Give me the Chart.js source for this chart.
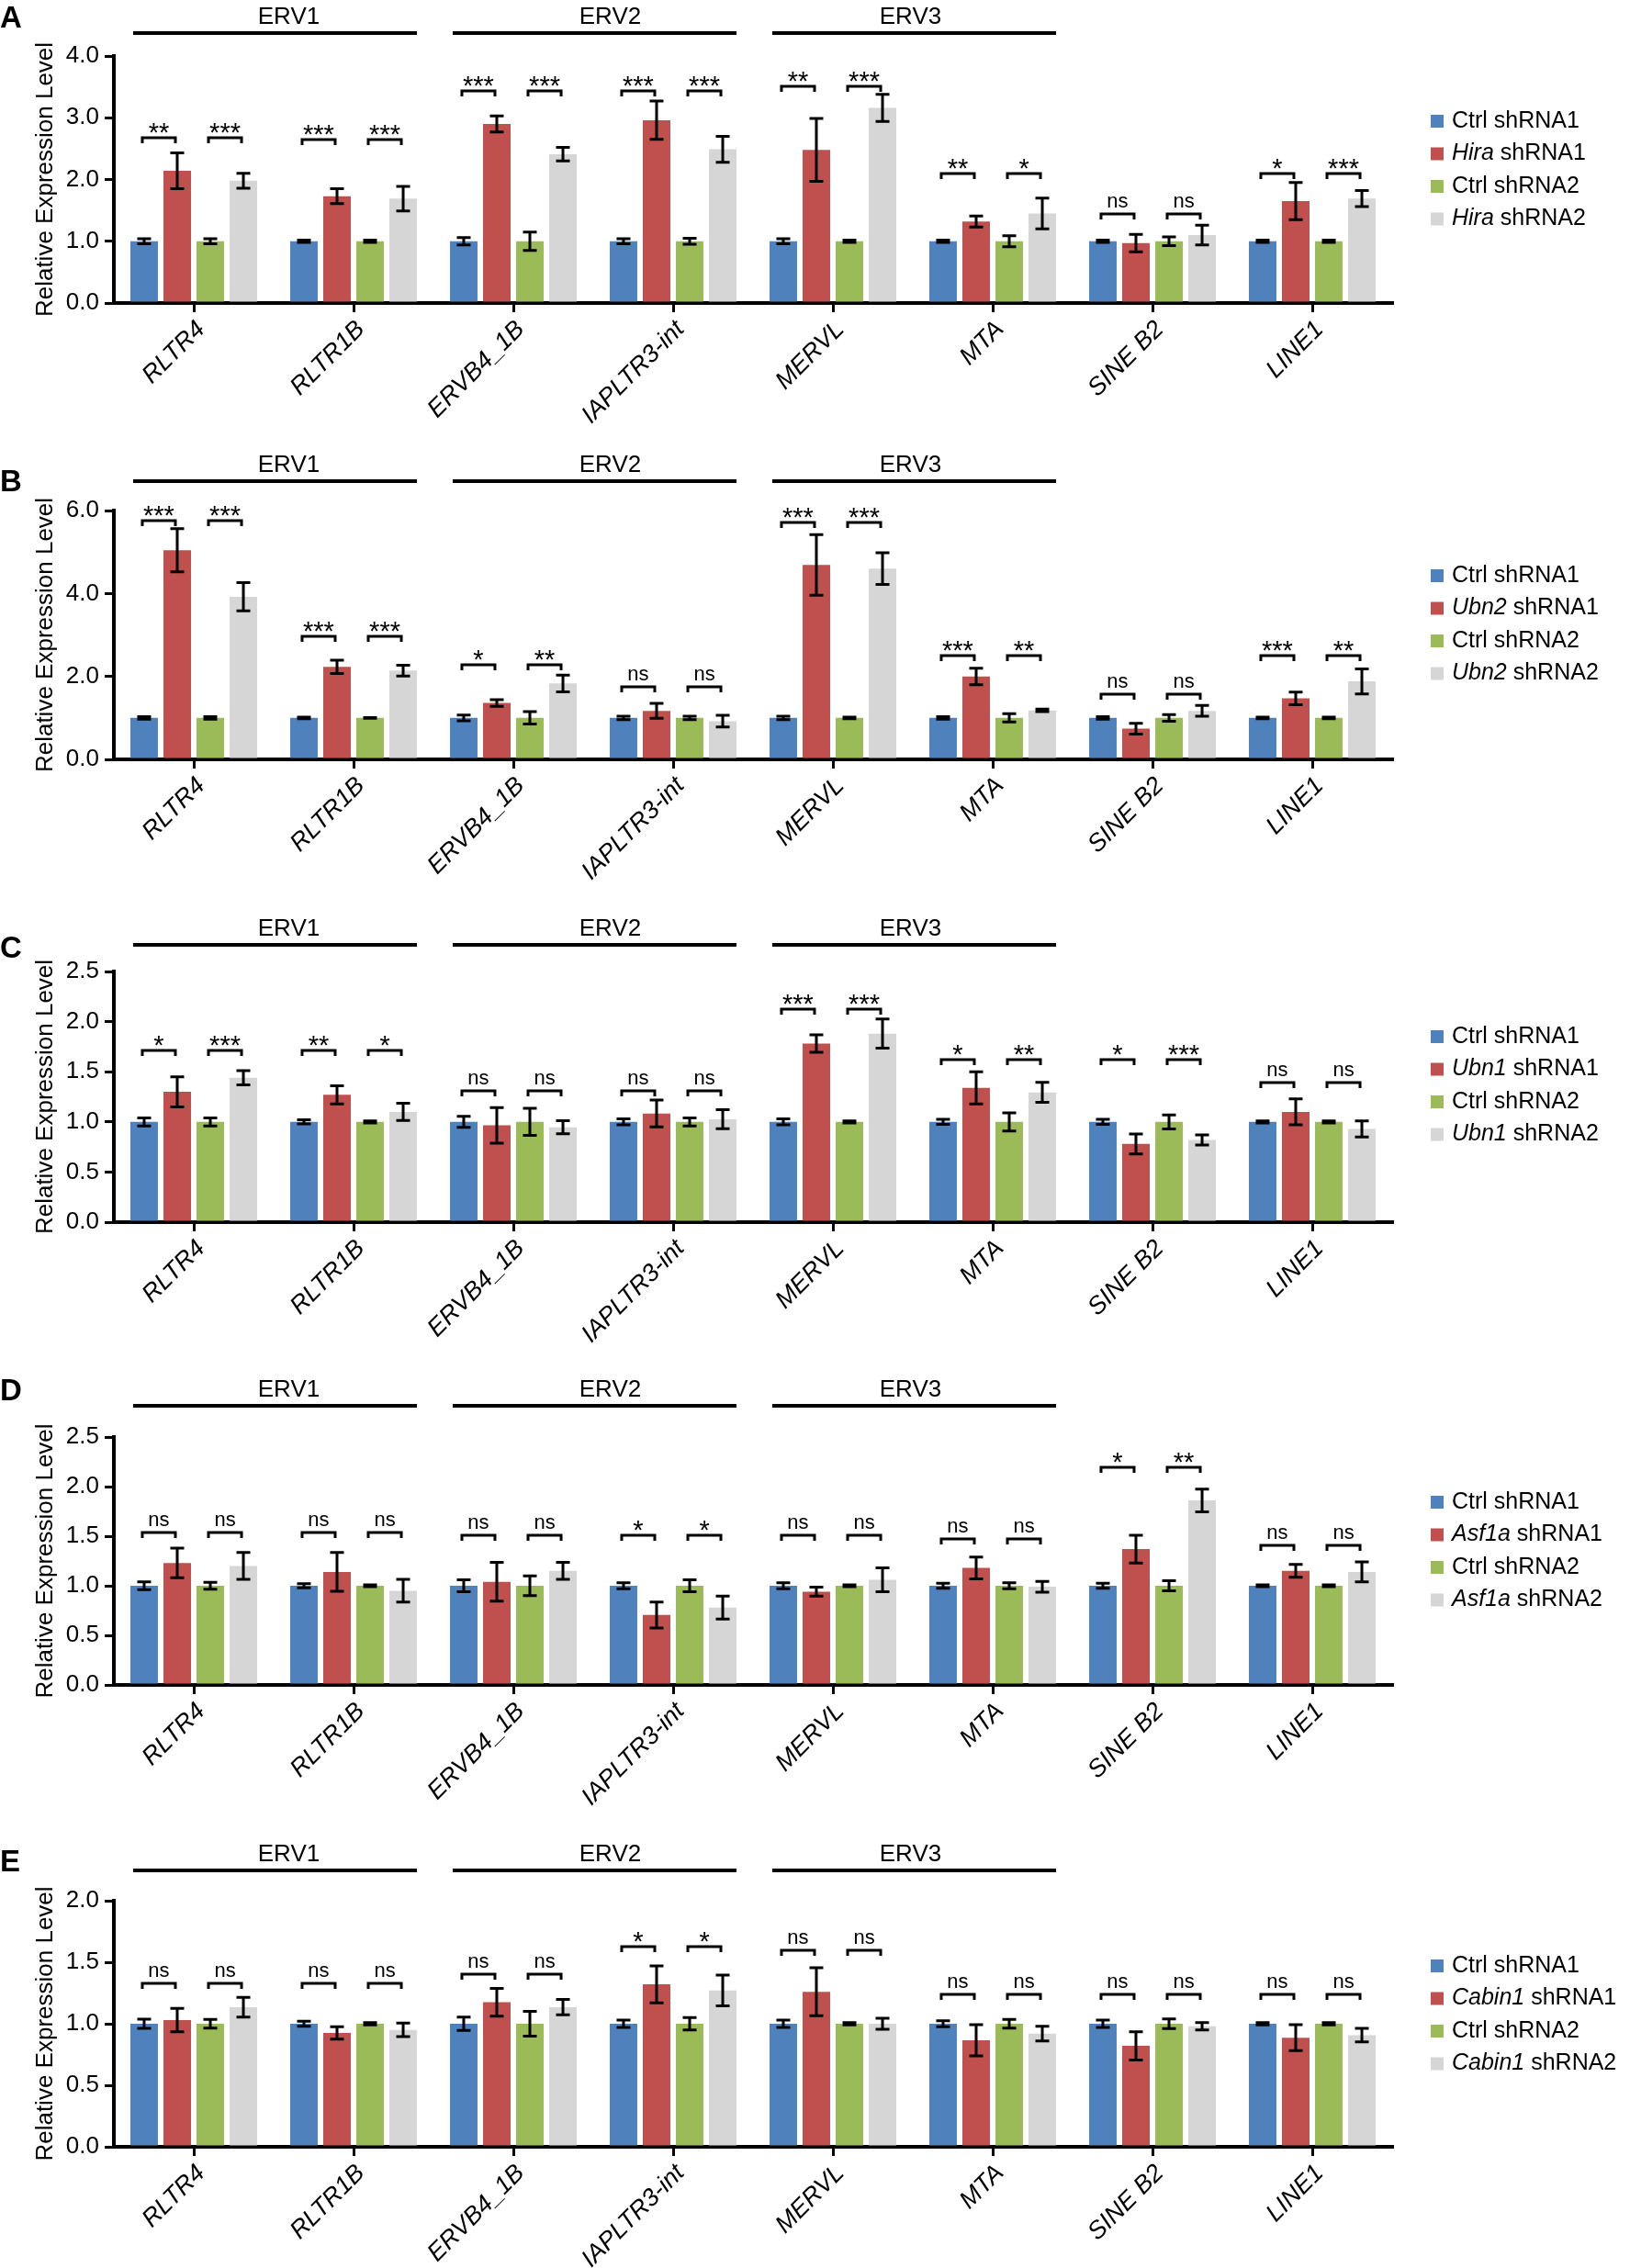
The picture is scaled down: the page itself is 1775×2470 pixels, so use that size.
<!DOCTYPE html>
<html>
<head>
<meta charset="utf-8">
<script src="https://cdn.jsdelivr.net/npm/chart.js@4.4.1/dist/chart.umd.min.js"></script>
<style>
  body { margin: 0; background: #fff; width: 1775px; height: 2470px; position: relative; overflow: hidden; }
</style>
</head>
<body>
<script>
// repeat families and categories, shared by all five panels
const categories = ['RLTR4', 'RLTR1B', 'ERVB4_1B', 'IAPLTR3-int', 'MERVL', 'MTA', 'SINE B2', 'LINE1'];
const families = ['ERV1', 'ERV2', 'ERV3'];
const familyFirst = [0, 2, 4];
const familyLast = [1, 3, 5];
const ctrlLevel = [1, 1, 1, 1, 1, 1, 1, 1];

// A - Hira
const hiraCtrl1Err = [0.04, 0.02, 0.06, 0.04, 0.04, 0.02, 0.02, 0.02];
const hiraKd1 = [2.14, 1.73, 2.90, 2.96, 2.48, 1.32, 0.97, 1.65];
const hiraKd1Err = [0.29, 0.12, 0.13, 0.31, 0.51, 0.09, 0.14, 0.30];
const hiraCtrl2Err = [0.04, 0.02, 0.15, 0.05, 0.02, 0.09, 0.07, 0.02];
const hiraKd2 = [1.98, 1.69, 2.41, 2.49, 3.16, 1.45, 1.10, 1.69];
const hiraKd2Err = [0.12, 0.20, 0.11, 0.21, 0.22, 0.25, 0.16, 0.13];
const hiraSig1 = ['**', '***', '***', '***', '**', '**', 'ns', '*'];
const hiraSig2 = ['***', '***', '***', '***', '***', '*', 'ns', '***'];
const hiraBracket = [2.68, 2.64, 3.43, 3.43, 3.51, 2.09, 1.44, 2.09];

// B - Ubn2
const ubn2Ctrl1Err = [0.03, 0.02, 0.07, 0.04, 0.04, 0.03, 0.03, 0.02];
const ubn2Kd1 = [5.04, 2.23, 1.36, 1.17, 4.69, 2.00, 0.74, 1.47];
const ubn2Kd1Err = [0.52, 0.16, 0.08, 0.18, 0.73, 0.20, 0.13, 0.15];
const ubn2Ctrl2Err = [0.03, 0.01, 0.15, 0.04, 0.02, 0.10, 0.08, 0.02];
const ubn2Kd2 = [3.92, 2.14, 1.83, 0.92, 4.60, 1.18, 1.17, 1.88];
const ubn2Kd2Err = [0.34, 0.13, 0.20, 0.14, 0.38, 0.03, 0.13, 0.30];
const ubn2Sig1 = ['***', '***', '*', 'ns', '***', '***', 'ns', '***'];
const ubn2Sig2 = ['***', '***', '**', 'ns', '***', '**', 'ns', '**'];
const ubn2Bracket = [5.75, 2.97, 2.28, 1.74, 5.71, 2.51, 1.58, 2.51];

// C - Ubn1
const ubn1Ctrl1Err = [0.04, 0.02, 0.055, 0.03, 0.03, 0.025, 0.025, 0.01];
const ubn1Kd1 = [1.30, 1.27, 0.965, 1.084, 1.78, 1.34, 0.78, 1.10];
const ubn1Kd1Err = [0.15, 0.09, 0.177, 0.135, 0.087, 0.16, 0.10, 0.13];
const ubn1Ctrl2Err = [0.04, 0.01, 0.135, 0.04, 0.01, 0.09, 0.07, 0.01];
const ubn1Kd2 = [1.44, 1.10, 0.946, 1.026, 1.88, 1.294, 0.82, 0.93];
const ubn1Kd2Err = [0.07, 0.085, 0.065, 0.095, 0.145, 0.10, 0.05, 0.08];
const ubn1Sig1 = ['*', '**', 'ns', 'ns', '***', '*', '*', 'ns'];
const ubn1Sig2 = ['***', '*', 'ns', 'ns', '***', '**', '***', 'ns'];
const ubn1Bracket = [1.71, 1.71, 1.31, 1.31, 2.12, 1.62, 1.62, 1.39];

// D - Asf1a
const asf1aCtrl1Err = [0.04, 0.02, 0.06, 0.03, 0.03, 0.025, 0.025, 0.01];
const asf1aKd1 = [1.23, 1.14, 1.04, 0.705, 0.94, 1.18, 1.37, 1.15];
const asf1aKd1Err = [0.15, 0.195, 0.195, 0.13, 0.045, 0.11, 0.14, 0.065];
const asf1aCtrl2Err = [0.035, 0.01, 0.10, 0.06, 0.01, 0.03, 0.05, 0.01];
const asf1aKd2 = [1.20, 0.95, 1.15, 0.78, 1.06, 0.99, 1.86, 1.14];
const asf1aKd2Err = [0.135, 0.115, 0.085, 0.115, 0.12, 0.055, 0.115, 0.10];
const asf1aSig1 = ['ns', 'ns', 'ns', '*', 'ns', 'ns', '*', 'ns'];
const asf1aSig2 = ['ns', 'ns', 'ns', '*', 'ns', 'ns', '**', 'ns'];
const asf1aBracket = [1.54, 1.54, 1.51, 1.51, 1.51, 1.47, 2.19, 1.41];

// E - Cabin1
const cabin1Ctrl1Err = [0.037, 0.02, 0.055, 0.03, 0.03, 0.025, 0.03, 0.01];
const cabin1Kd1 = [1.03, 0.925, 1.175, 1.32, 1.26, 0.865, 0.82, 0.887];
const cabin1Kd1Err = [0.095, 0.05, 0.113, 0.15, 0.195, 0.127, 0.115, 0.105];
const cabin1Ctrl2Err = [0.035, 0.01, 0.10, 0.05, 0.01, 0.035, 0.04, 0.01];
const cabin1Kd2 = [1.135, 0.95, 1.135, 1.27, 1.0, 0.92, 0.98, 0.907];
const cabin1Kd2Err = [0.08, 0.055, 0.063, 0.125, 0.045, 0.06, 0.03, 0.055];
const cabin1Sig1 = ['ns', 'ns', 'ns', '*', 'ns', 'ns', 'ns', 'ns'];
const cabin1Sig2 = ['ns', 'ns', 'ns', '*', 'ns', 'ns', 'ns', 'ns'];
const cabin1Bracket = [1.33, 1.33, 1.40, 1.63, 1.60, 1.24, 1.24, 1.24];

const FONT = "'Liberation Sans', Arial, Helvetica, sans-serif";
const COLORS = ['#4f81bd', '#c0504d', '#9bbb59', '#d6d6d6'];
const PAD_TOP = 80;
const AXIS_H = 140;
const familyLabelShift = [15, 17, -4];

const panels = [
  { letter: 'A', gene: 'Hira', top: 61, bottom: 330, yMax: 4, yStep: 1, lineGap: 25, letterY: 30,
    ctrl1Err: hiraCtrl1Err, kd1: hiraKd1, kd1Err: hiraKd1Err, ctrl2Err: hiraCtrl2Err, kd2: hiraKd2, kd2Err: hiraKd2Err,
    sig1: hiraSig1, sig2: hiraSig2, bracket: hiraBracket },
  { letter: 'B', gene: 'Ubn2', top: 556, bottom: 827, yMax: 6, yStep: 2, lineGap: 32, letterY: 535,
    ctrl1Err: ubn2Ctrl1Err, kd1: ubn2Kd1, kd1Err: ubn2Kd1Err, ctrl2Err: ubn2Ctrl2Err, kd2: ubn2Kd2, kd2Err: ubn2Kd2Err,
    sig1: ubn2Sig1, sig2: ubn2Sig2, bracket: ubn2Bracket },
  { letter: 'C', gene: 'Ubn1', top: 1058, bottom: 1331, yMax: 2.5, yStep: 0.5, lineGap: 29, letterY: 1043,
    ctrl1Err: ubn1Ctrl1Err, kd1: ubn1Kd1, kd1Err: ubn1Kd1Err, ctrl2Err: ubn1Ctrl2Err, kd2: ubn1Kd2, kd2Err: ubn1Kd2Err,
    sig1: ubn1Sig1, sig2: ubn1Sig2, bracket: ubn1Bracket },
  { letter: 'D', gene: 'Asf1a', top: 1565, bottom: 1835, yMax: 2.5, yStep: 0.5, lineGap: 34, letterY: 1525,
    ctrl1Err: asf1aCtrl1Err, kd1: asf1aKd1, kd1Err: asf1aKd1Err, ctrl2Err: asf1aCtrl2Err, kd2: asf1aKd2, kd2Err: asf1aKd2Err,
    sig1: asf1aSig1, sig2: asf1aSig2, bracket: asf1aBracket },
  { letter: 'E', gene: 'Cabin1', top: 2070, bottom: 2338, yMax: 2, yStep: 0.5, lineGap: 33, letterY: 2038,
    ctrl1Err: cabin1Ctrl1Err, kd1: cabin1Kd1, kd1Err: cabin1Kd1Err, ctrl2Err: cabin1Ctrl2Err, kd2: cabin1Kd2, kd2Err: cabin1Kd2Err,
    sig1: cabin1Sig1, sig2: cabin1Sig2, bracket: cabin1Bracket }
];

function makePanel(p) {
  const h = PAD_TOP + (p.bottom - p.top) + AXIS_H;
  const offY = p.top - PAD_TOP;
  const cv = document.createElement('canvas');
  cv.width = 1775; cv.height = h;
  cv.style.cssText = `position:absolute;left:0;top:${offY}px;width:1775px;height:${h}px`;
  document.body.appendChild(cv);

  const means = [ctrlLevel, p.kd1, ctrlLevel, p.kd2];
  const errs = [p.ctrl1Err, p.kd1Err, p.ctrl2Err, p.kd2Err];
  const legend = [['', 'Ctrl shRNA1'], [p.gene, ' shRNA1'], ['', 'Ctrl shRNA2'], [p.gene, ' shRNA2']];

  const deco = {
    id: 'deco' + p.letter,
    afterDatasetsDraw(chart) {
      const { ctx, chartArea: area, scales: { y } } = chart;
      const metas = [0, 1, 2, 3].map(i => chart.getDatasetMeta(i));
      ctx.save();
      ctx.strokeStyle = '#000';
      ctx.fillStyle = '#000';
      ctx.lineWidth = 3;

      // error bars
      metas.forEach((m, d) => m.data.forEach((bar, i) => {
        const yt = y.getPixelForValue(means[d][i] + errs[d][i]);
        const yb = y.getPixelForValue(means[d][i] - errs[d][i]);
        ctx.beginPath();
        ctx.moveTo(bar.x, yt); ctx.lineTo(bar.x, yb);
        ctx.moveTo(bar.x - 7.5, yt); ctx.lineTo(bar.x + 7.5, yt);
        ctx.moveTo(bar.x - 7.5, yb); ctx.lineTo(bar.x + 7.5, yb);
        ctx.stroke();
      }));

      // significance brackets
      ctx.textAlign = 'center';
      ctx.textBaseline = 'alphabetic';
      categories.forEach((c, i) => {
        const yb = Math.round(y.getPixelForValue(p.bracket[i]));
        [[0, 1, p.sig1[i]], [2, 3, p.sig2[i]]].forEach(([a, b, sig]) => {
          const x1 = metas[a].data[i].x - 2, x2 = metas[b].data[i].x - 2;
          ctx.beginPath();
          ctx.moveTo(x1, yb + 6); ctx.lineTo(x1, yb); ctx.lineTo(x2, yb); ctx.lineTo(x2, yb + 6);
          ctx.stroke();
          if (sig === 'ns') {
            ctx.font = `22px ${FONT}`;
            ctx.fillText(sig, (x1 + x2) / 2, yb - 7);
          } else {
            ctx.font = `29px ${FONT}`;
            ctx.fillText(sig, (x1 + x2) / 2, yb + 4);
          }
        });
      });

      // repeat family lines
      ctx.lineWidth = 4;
      ctx.font = `26px ${FONT}`;
      families.forEach((f, k) => {
        const b0 = metas[0].data[familyFirst[k]], b3 = metas[3].data[familyLast[k]];
        const x1 = b0.x - b0.width / 2 + 3, x2 = b3.x + b3.width / 2;
        const ly = area.top - p.lineGap;
        ctx.beginPath(); ctx.moveTo(x1, ly); ctx.lineTo(x2, ly); ctx.stroke();
        ctx.fillText(f, (x1 + x2) / 2 + familyLabelShift[k], ly - 10);
      });

      // y title
      ctx.save();
      ctx.translate(50, (area.top + area.bottom) / 2);
      ctx.rotate(-Math.PI / 2);
      ctx.textBaseline = 'middle';
      ctx.font = `26px ${FONT}`;
      ctx.fillText('Relative Expression Level', 0, 0);
      ctx.restore();

      // legend
      ctx.textAlign = 'left';
      ctx.textBaseline = 'middle';
      legend.forEach(([gene, rest], k) => {
        const cy = area.top + 71 + k * 35.5;
        ctx.fillStyle = COLORS[k];
        ctx.fillRect(1558, cy - 7, 14, 14);
        ctx.fillStyle = '#000';
        let x = 1581;
        if (gene) {
          ctx.font = `italic 25px ${FONT}`;
          ctx.fillText(gene, x, cy);
          x += ctx.measureText(gene).width;
        }
        ctx.font = `25px ${FONT}`;
        ctx.fillText(rest, x, cy);
      });

      // panel letter
      ctx.font = `bold 33px ${FONT}`;
      ctx.textBaseline = 'alphabetic';
      ctx.fillText(p.letter, 0, p.letterY - offY);
      ctx.restore();
    }
  };

  new Chart(cv, {
    type: 'bar',
    data: {
      labels: categories,
      datasets: means.map((m, d) => ({
        data: m,
        backgroundColor: COLORS[d],
        borderWidth: 0,
        barPercentage: 0.833,
        categoryPercentage: 0.828
      }))
    },
    options: {
      responsive: false,
      animation: false,
      devicePixelRatio: 1,
      layout: { padding: { top: PAD_TOP, left: 0, right: 1775 - 1516, bottom: 0 } },
      plugins: { legend: { display: false }, tooltip: { enabled: false } },
      scales: {
        x: {
          ticks: { color: '#000', font: { size: 27, style: 'italic', family: FONT }, maxRotation: 45, minRotation: 45, padding: 3, labelOffset: 8, autoSkip: false },
          grid: { drawOnChartArea: false, offset: false, tickLength: 10, color: '#000', lineWidth: 3 },
          border: { color: '#000', width: 4 },
          afterFit: s => { s.height = AXIS_H; }
        },
        y: {
          min: 0,
          max: p.yMax,
          ticks: { stepSize: p.yStep, color: '#000', font: { size: 26, family: FONT }, padding: 6, callback: v => Number(v).toFixed(1) },
          grid: { drawOnChartArea: false, tickLength: 10, color: '#000', lineWidth: 3 },
          border: { color: '#000', width: 4 },
          afterFit: s => { s.width = 124; }
        }
      }
    },
    plugins: [deco]
  });
}

panels.forEach(makePanel);
</script>
</body>
</html>
